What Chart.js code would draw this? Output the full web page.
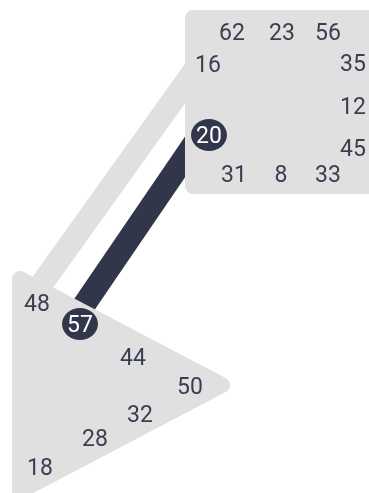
<!DOCTYPE html>
<html>
<head>
<meta charset="utf-8">
<script src="https://cdn.jsdelivr.net/npm/chart.js@4/dist/chart.umd.min.js"></script>
<style>
  html, body { margin: 0; padding: 0; background: #ffffff; }
  canvas { display: block; }
</style>
</head>
<body>
<canvas id="chart" width="369" height="493"></canvas>
<script>
// values shown on each node, clockwise
const squareValues = [62, 23, 56, 35, 12, 45, 33, 8, 31, 20, 16];
const triangleValues = [48, 57, 44, 50, 32, 28, 18];

// links between values of the two nodes
const linkSources = [16, 20];
const linkTargets = [48, 57];
const highlighted = [20, 57];

// layout (chart units = pixels of the 369x493 area)
const squareOutline = [[193, 18], [385, 18], [385, 186], [193, 186], [193, 18]];
const triangleOutline = [[20, 279], [222, 385], [20, 491], [20, 279]];
const squareSlots = [[232, 32], [282, 32], [328, 32], [353, 63], [353, 106], [353, 148],
                     [328, 174], [281, 174], [234, 174], [209, 135], [208, 64]];
const triangleSlots = [[37, 303], [80, 324], [133, 357], [190, 386], [140, 414], [95, 438], [40, 467]];

const GREY = '#e0e0e0';
const DARK = '#32364a';
const TEXT = '#3a3e50';
const FONT_SIZE = 23;
const PORT_SHIFT = -9;

const labels = [];
squareValues.forEach((v, i) => labels.push({ x: squareSlots[i][0], y: squareSlots[i][1], v: v }));
triangleValues.forEach((v, i) => labels.push({ x: triangleSlots[i][0], y: triangleSlots[i][1], v: v }));

function slotOf(v) {
    const l = labels.find(p => p.v === v);
    return { x: l.x + PORT_SHIFT, y: l.y };
}

const linkDatasets = linkSources.map((s, i) => {
    const on = highlighted.includes(s) && highlighted.includes(linkTargets[i]);
    return {
        data: [slotOf(s), slotOf(linkTargets[i])],
        showLine: true,
        borderColor: on ? DARK : GREY,
        borderWidth: 23,
        borderCapStyle: 'butt',
        pointRadius: 0,
        fill: false,
        order: 3
    };
});

function shapeDataset(outline) {
    return {
        data: outline.map(p => ({ x: p[0], y: p[1] })),
        showLine: true,
        borderColor: GREY,
        backgroundColor: GREY,
        borderWidth: 16,
        borderJoinStyle: 'round',
        borderCapStyle: 'round',
        pointRadius: 0,
        fill: 'shape',
        order: 2
    };
}

const labelDataset = {
    data: labels,
    pointRadius: 0,
    order: 1
};

// value text, with an oval badge behind highlighted values
const valueText = {
    id: 'valueText',
    afterDatasetsDraw(chart) {
        const ctx = chart.ctx;
        const meta = chart.getDatasetMeta(chart.data.datasets.length - 1);
        ctx.save();
        ctx.font = FONT_SIZE + 'px Roboto';
        ctx.textAlign = 'center';
        ctx.textBaseline = 'alphabetic';
        meta.data.forEach((pt, i) => {
            const l = labels[i];
            const on = highlighted.includes(l.v);
            if (on) {
                ctx.fillStyle = DARK;
                ctx.beginPath();
                ctx.ellipse(pt.x, pt.y, 18, 16, 0, 0, Math.PI * 2);
                ctx.fill();
            }
            ctx.fillStyle = on ? '#ffffff' : TEXT;
            ctx.fillText(String(l.v), pt.x, pt.y + FONT_SIZE * 0.711 / 2);
        });
        ctx.restore();
    }
};

new Chart(document.getElementById('chart'), {
    type: 'scatter',
    data: {
        datasets: [
            ...linkDatasets,
            shapeDataset(squareOutline),
            shapeDataset(triangleOutline),
            labelDataset
        ]
    },
    options: {
        responsive: false,
        animation: false,
        events: [],
        layout: { padding: 0, autoPadding: false },
        plugins: {
            legend: { display: false },
            tooltip: { enabled: false }
        },
        scales: {
            x: { type: 'linear', min: 0, max: 369, display: false },
            y: { type: 'linear', min: 0, max: 493, reverse: true, display: false }
        }
    },
    plugins: [valueText]
});
</script>
</body>
</html>
